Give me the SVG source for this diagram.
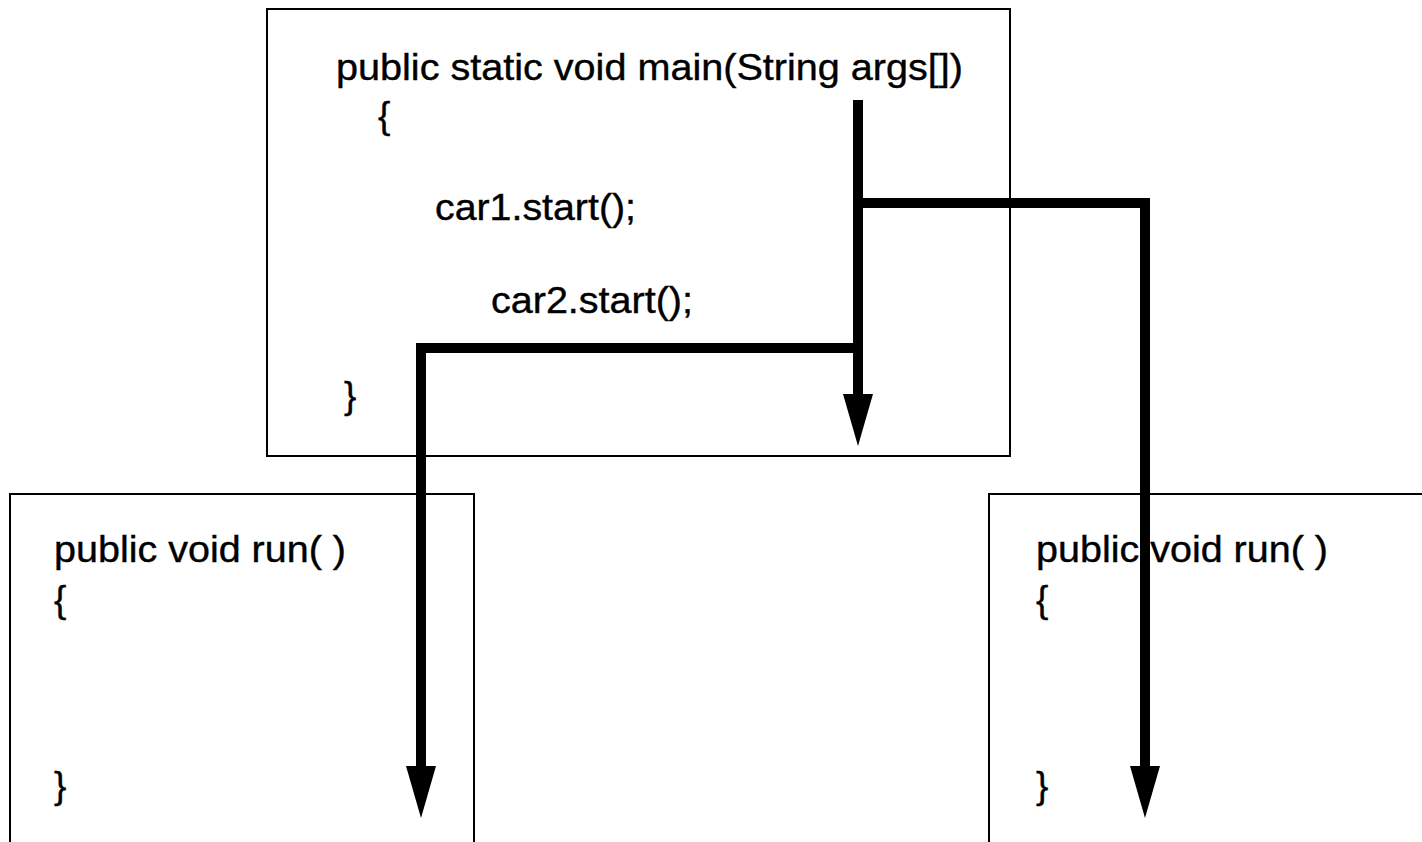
<svg xmlns="http://www.w3.org/2000/svg" width="1422" height="842" viewBox="0 0 1422 842">
  <style>
    .box { fill: #fff; stroke: #000; stroke-width: 2; }
    .t { font-family: "Liberation Sans", Arial, Helvetica, sans-serif; font-size: 37px; fill: #000; stroke: #000; stroke-width: 0.4; }
    .wire { fill: none; stroke: #000; stroke-width: 10; stroke-linejoin: miter; stroke-linecap: butt; }
  </style>
  <defs>
    <marker id="ah" markerUnits="userSpaceOnUse" viewBox="0 0 52 30" refX="0" refY="15" markerWidth="52" markerHeight="30" orient="auto">
      <path d="M0,0 L52,15 L0,30 Z" fill="#000"/>
    </marker>
  </defs>
  <rect width="1422" height="842" fill="#fff"/>
  <g id="main-node">
    <rect class="box" x="267" y="9" width="743" height="447"/>
    <text class="t" x="336" y="80" textLength="627" lengthAdjust="spacingAndGlyphs">public static void main(String args[])</text>
    <text class="t" x="378" y="128">{</text>
    <text class="t" x="435" y="220" textLength="201" lengthAdjust="spacingAndGlyphs">car1.start();</text>
    <text class="t" x="491" y="313" textLength="202" lengthAdjust="spacingAndGlyphs">car2.start();</text>
    <text class="t" x="344" y="408">}</text>
  </g>
  <g id="run-left">
    <rect class="box" x="10" y="494" width="464" height="360"/>
    <text class="t" x="54" y="562" textLength="292" lengthAdjust="spacingAndGlyphs">public void run( )</text>
    <text class="t" x="54" y="612">{</text>
    <text class="t" x="54" y="798">}</text>
  </g>
  <g id="run-right">
    <rect class="box" x="989" y="494" width="445" height="360"/>
    <text class="t" x="1036" y="562" textLength="292" lengthAdjust="spacingAndGlyphs">public void run( )</text>
    <text class="t" x="1036" y="612">{</text>
    <text class="t" x="1036" y="798">}</text>
  </g>
  <g id="connectors">
    <path class="wire" d="M858,100 V394" marker-end="url(#ah)"/>
    <path class="wire" d="M863,348 H421 V766" marker-end="url(#ah)"/>
    <path class="wire" d="M858,203 H1145 V766" marker-end="url(#ah)"/>
  </g>
</svg>
